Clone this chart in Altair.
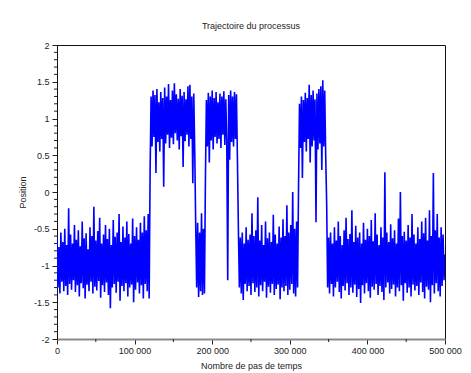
import altair as alt
import pandas as pd

STEP = 1250  # time steps between stored samples

low_1 = [-0.62, -1.30, -0.75, -1.38, -0.55, -1.22, -0.68, -1.35, -0.50, -1.28,
         -0.72, -1.40, -0.22, -1.25, -0.58, -1.33, -0.70, -1.20, -0.45, -1.36,
         -0.65, -1.27, -0.52, -1.42, -0.74, -1.24, -0.40, -1.31, -0.63, -1.45,
         -0.56, -1.26, -0.78, -1.35, -0.48, -1.22, -0.60, -1.38, -0.20, -1.29,
         -0.66, -1.34, -0.53, -1.21, -0.35, -1.44, -0.70, -1.27, -0.58, -1.36,
         -0.45, -1.23, -0.64, -1.40, -0.50, -1.58, -0.72, -1.30, -0.38, -1.25,
         -0.61, -1.37, -0.55, -1.22, -0.30, -1.48, -0.68, -1.28, -0.47, -1.35,
         -0.62, -1.24, -0.40, -1.42, -0.57, -1.30, -0.70, -1.26, -0.36, -1.50,
         -0.60, -1.33, -0.48, -1.23, -0.65, -1.38, -0.42, -1.27, -0.55, -1.45,
         -0.33, -1.25, -0.52, -1.35, -0.30, -1.45, 0.30]
high_1 = [1.30, 0.62, 1.38, 0.75, 1.32, 0.26, 1.40, 0.68, 1.22, 0.55,
          1.36, 0.72, 1.28, 0.07, 1.42, 0.66, 1.30, 0.78, 1.47, 0.60,
          1.25, 0.74, 1.38, 0.65, 1.48, 0.80, 1.33, 0.70, 1.27, 0.58,
          1.40, 0.76, 1.31, 0.34, 1.36, 0.69, 1.26, 0.78, 1.44, 0.62,
          1.46, 0.72, 1.30, 0.12, 1.34, 0.55]
low_2 = [-0.45, -1.30, -0.42, -1.43, -0.55, -1.35, -0.29, -1.40, -0.50, -1.38]
high_2 = [0.15, 1.25, 0.62, 1.35, 0.40, 1.30, 0.70, 1.38, 0.58, 1.28, 0.75,
          1.36, 0.66, 1.22, 0.72, 1.34, 0.60, 1.30, 0.78, 1.37, 0.64,
          1.26, 0.70, -1.20, 1.32, 0.44, 1.38, 0.68, 1.30, 0.62, 1.36,
          0.72, 1.33, 0.45]
low_3 = [-0.50, -1.30, -0.62, -1.38, -0.55, -1.47, -0.70, -1.25, -0.48, -1.35,
         -0.65, -1.28, -0.58, -1.40, -0.29, -1.24, -0.60, -1.36, -0.52, -1.30,
         -0.07, -1.42, -0.66, -1.27, -0.45, -1.35, -0.72, -1.22, -0.40, -1.44,
         -0.63, -1.29, -0.55, -1.37, -0.68, -1.25, -0.31, -1.40, -0.58, -1.32,
         -0.70, -1.26, -0.47, -1.46, -0.62, -1.30, -0.37, -1.35, -0.60, -1.28,
         -0.18, -1.40, -0.55, -1.33, -0.45, -1.25, 0.00, -1.38, -0.50, -1.42,
         -0.40, -1.30]
high_3 = [0.05, 1.20, 0.60, 1.30, 0.19, 1.25, 0.68, 1.35, 0.55, 1.28,
          0.72, 1.46, 0.40, 1.32, 0.62, 1.38, 0.70, 1.26, -0.41, 1.34,
          0.58, 1.40, 0.66, 1.44, 0.30, 1.52, 0.62, 1.38, 0.50]
low_4 = [-0.15, -1.30,
         -0.62, -1.38, -0.55, -1.25, -0.70, -1.42, -0.48, -1.30, -0.66, -1.22,
         -0.40, -1.36, -0.60, -1.45, -0.72, -1.28, -0.52, -1.34, -0.35, -1.24,
         -0.64, -1.40, -0.57, -1.30, -0.25, -1.37, -0.68, -1.26, -0.46, -1.43,
         -0.62, -1.32, -0.55, -1.51, -0.70, -1.27, -0.42, -1.38, -0.65, -1.24,
         -0.50, -1.35, -0.60, -1.44, -0.38, -1.29, -0.67, -1.33, -0.29, -1.25,
         -0.58, -1.40, -0.72, -1.28, -0.48, -1.36, -0.62, -1.47, 0.27, -1.30,
         -0.55, -1.23, -0.68, -1.38, -0.44, -1.32, -0.63, -1.26, -0.52, -1.42,
         -0.70, -1.30, -0.36, -1.35, 0.00, -1.27, -0.60, -1.48, -0.54, -1.24,
         -0.66, -1.37, -0.45, -1.30, -0.62, -1.42, -0.30, -1.26, -0.58, -1.34,
         -0.70, -1.28, -0.48, -1.40, -0.64, -1.23, -0.40, -1.36, -0.56, -1.45,
         -0.35, -1.29, -0.66, -1.33, -0.25, -1.50, -0.60, -1.27, 0.26, -1.38,
         -0.52, -1.24, -0.30, -1.35, -0.62, -1.42, -0.48, -1.28, -0.58, -1.20,
         -0.85]

position = low_1 + high_1 + low_2 + high_2 + low_3 + high_3 + low_4
steps = [i * STEP for i in range(len(position))]

x_major = [0, 100000, 200000, 300000, 400000, 500000]
x_minor = [50000, 150000, 250000, 350000, 450000]
y_major = [-2, -1.5, -1, -0.5, 0, 0.5, 1, 1.5, 2]
y_minor = [-1.9, -1.8, -1.7, -1.6, -1.4, -1.3, -1.2, -1.1, -0.9, -0.8, -0.7, -0.6,
           -0.4, -0.3, -0.2, -0.1, 0.1, 0.2, 0.3, 0.4, 0.6, 0.7, 0.8, 0.9,
           1.1, 1.2, 1.3, 1.4, 1.6, 1.7, 1.8, 1.9]

df = pd.DataFrame({"step": steps, "pos": position})
W, H = 388, 294
FONT = "Liberation Sans"

xscale = alt.Scale(domain=[0, 500000], nice=False, zero=False)
yscale = alt.Scale(domain=[-2, 2], nice=False, zero=False)

xaxis = alt.Axis(values=x_major, title="Nombre de pas de temps",
                 labelExpr="datum.value == 0 ? '0' : format(datum.value / 1000, 'd') + ' 000'",
                 tickSize=5, labelPadding=2, titlePadding=6,
                 domainColor="#8a8a8a", domainWidth=2, tickColor="#222",
                 labelFlush=False)
yaxis = alt.Axis(values=y_major, title="Position",
                 labelExpr="'' + datum.value",
                 tickSize=5, labelPadding=3, titlePadding=6,
                 domainColor="#111", tickColor="#222")

line = alt.Chart(df).mark_line(color="#0000ff", strokeWidth=1.6, clip=True).encode(
    x=alt.X("step:Q", scale=xscale, axis=xaxis),
    y=alt.Y("pos:Q", scale=yscale, axis=yaxis),
)

yminor = alt.Chart(pd.DataFrame({"yv": y_minor})).mark_rule(color="#222", strokeWidth=1).encode(
    y=alt.Y("yv:Q", scale=yscale, axis=yaxis),
    x=alt.value(-3), x2=alt.value(0),
)
xminor = alt.Chart(pd.DataFrame({"xv": x_minor})).mark_rule(color="#222", strokeWidth=1).encode(
    x=alt.X("xv:Q", scale=xscale, axis=xaxis),
    y=alt.value(H), y2=alt.value(H + 3),
)

chart = alt.layer(line, yminor, xminor).properties(
    width=W, height=H,
    title=alt.TitleParams("Trajectoire du processus", fontSize=9, fontWeight="normal",
                          font=FONT, color="#222", offset=10, anchor="middle"),
    autosize=alt.AutoSizeParams(type="none"),
    padding={"left": 49, "top": 37, "right": 18, "bottom": 33},
    background="white",
).configure_view(stroke="#111", strokeWidth=1).configure_axis(
    grid=False, labelFont=FONT, titleFont=FONT, labelFontSize=9, titleFontSize=9,
    titleFontWeight="normal", labelColor="#222", titleColor="#222",
)

chart.save("out.html", embed_options={"renderer": "svg", "actions": False})
